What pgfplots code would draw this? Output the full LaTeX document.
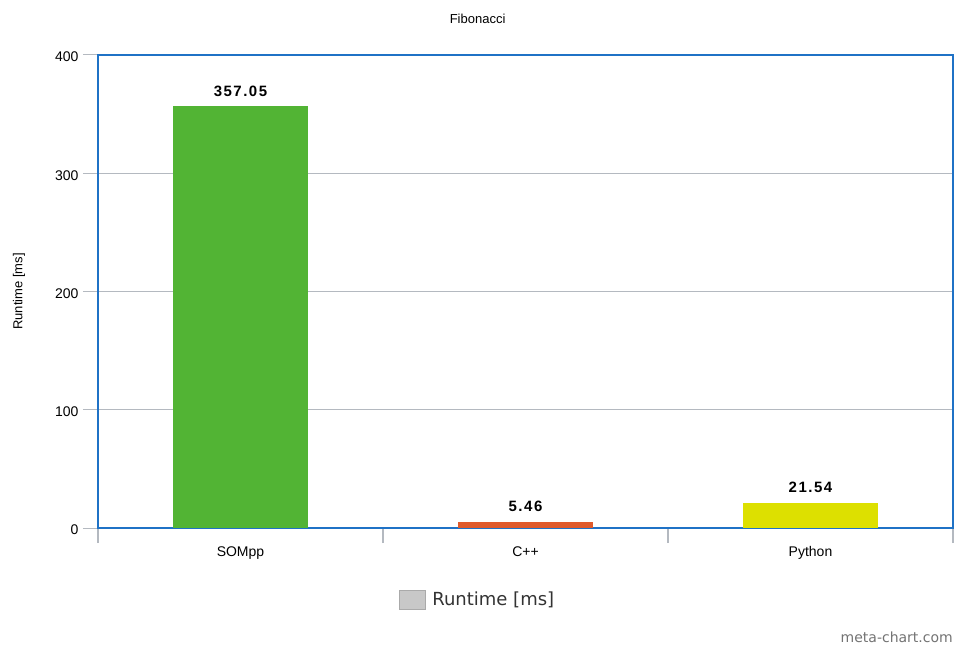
\documentclass[border=0pt]{standalone}
\usepackage{fontspec}
\setmainfont{Liberation Sans}
\newfontfamily\legfont{DejaVu Sans}
\newfontfamily\barfont[LetterSpace=10]{Liberation Sans}
\usepackage{pgfplots}
\pgfplotsset{compat=1.18}
\definecolor{cgreen}{HTML}{52B434}
\definecolor{cred}{HTML}{E05A2B}
\definecolor{cyellow}{HTML}{DDE000}
\definecolor{frameblue}{HTML}{1F72C6}
\definecolor{gridgrey}{HTML}{B4B9C0}
\definecolor{leggrey}{HTML}{C8C8C8}
\begin{document}
\begin{tikzpicture}
\path[use as bounding box] (-98pt,-118pt) rectangle (856pt,528pt);
\begin{axis}[
  at={(0pt,0pt)}, anchor=south west,
  scale only axis, width=855pt, height=473pt,
  xmin=-0.5, xmax=2.5, ymin=0, ymax=400,
  /pgf/number format/assume math mode=true,
  ytick={0,100,200,300,400},
  xtick={-0.5,0.5,1.5,2.5},
  x tick label as interval,
  xticklabels={SOMpp,C++,Python},
  x tick style={gridgrey, line width=1.2pt},
  y tick style={gridgrey, line width=1pt},
  xtick pos=bottom, ytick pos=left,
  major tick length=15pt,
  tick align=outside,
  ymajorgrids, grid style={gridgrey, line width=1pt},
  axis line style={frameblue, line width=2.8pt},
  ticklabel style={font=\fontsize{14}{16}\selectfont, text=black},
  xticklabel style={yshift=0pt},
  yticklabel style={xshift=-1pt, yshift=-2pt},
  ylabel={Runtime [ms]},
  ylabel style={font=\fontsize{13}{15}\selectfont, at={(axis description cs:-0.0925,0.5)}, anchor=center},
  title={Fibonacci},
  title style={font=\fontsize{13}{15}\selectfont, at={(axis description cs:0.444,1)}, anchor=base, yshift=25pt},
  ybar, bar width=135pt, bar shift=0pt,
  nodes near coords,
  every node near coord/.append style={font=\barfont\bfseries\fontsize{15}{17}\selectfont, text=black, yshift=6pt},
  point meta=explicit symbolic,
  legend style={at={(axis description cs:0.444,-0.152)}, anchor=center, draw=none, fill=none,
    font=\legfont\fontsize{18}{20}\selectfont, text=black!80},
  legend cell align=left,
]
\addplot[fill=cgreen, draw=none, forget plot] coordinates {(0,357.05) [357.05]};
\addplot[fill=cred, draw=none, forget plot] coordinates {(1,5.46) [5.46]};
\addplot[fill=cyellow, draw=none, forget plot] coordinates {(2,21.54) [21.54]};
\addlegendimage{legend image code/.code={\draw[fill=leggrey, draw=leggrey!85!black] (0pt,-9.5pt) rectangle (26pt,9.5pt); \path[draw=none] (31pt,0pt) circle (0.1pt);}}
\addlegendentry{Runtime [ms]}
\end{axis}
\node[anchor=east, inner sep=0pt, font=\legfont\fontsize{14}{16}\selectfont, text=black!55] at (855pt,-109pt) {meta-chart.com};
\end{tikzpicture}
\end{document}
